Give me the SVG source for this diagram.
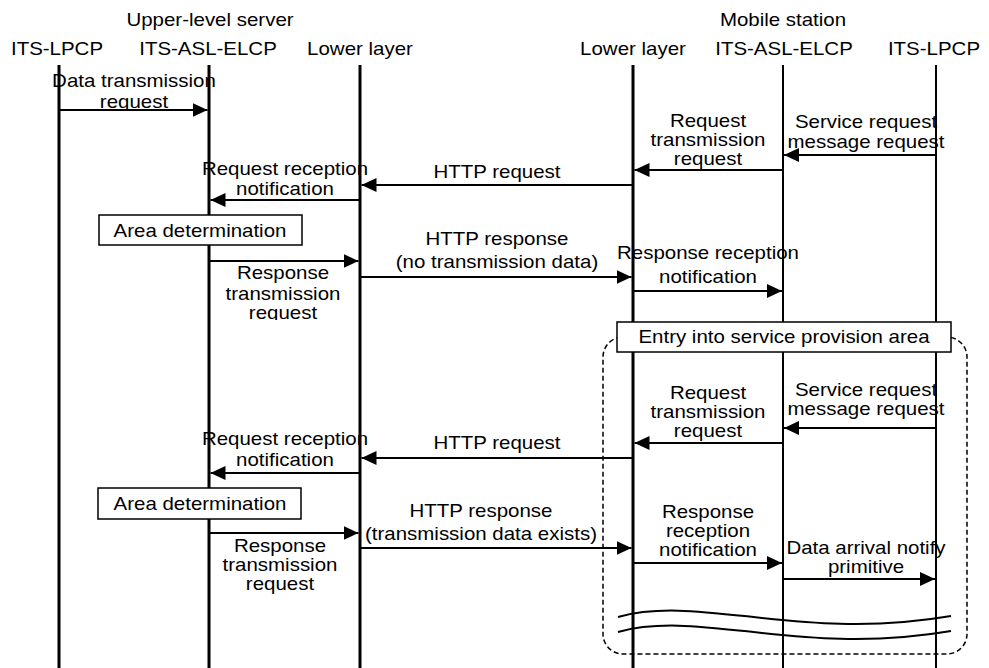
<svg xmlns="http://www.w3.org/2000/svg" width="989" height="668" viewBox="0 0 989 668">
<style>
text{font-family:"Liberation Sans",Arial,sans-serif;font-size:17.8px;fill:#000;text-anchor:middle}
.ll{stroke:#000;fill:none}
.msg{stroke:#000;stroke-width:2;fill:none;marker-end:url(#ah)}
.box{fill:#fff;stroke:#000;stroke-width:1.5}
.dash{fill:none;stroke:#000;stroke-width:1.5;stroke-dasharray:5 3}
.wave{fill:none;stroke:#000;stroke-width:2}
</style>
<defs>
<marker id="ah" markerUnits="userSpaceOnUse" markerWidth="15" markerHeight="14" refX="15" refY="7" orient="auto">
<path d="M0,0 L15,7 L0,14 Z" fill="#000"/>
</marker>
<clipPath id="c1"><rect x="0" y="0" width="989" height="110"/></clipPath>
<clipPath id="c2"><rect x="0" y="0" width="989" height="320"/></clipPath>
</defs>
<rect width="989" height="668" fill="#fff"/>

<g id="group-headers" transform="scale(1.15,1)">
<text x="182.61" y="26">Upper-level server</text>
<text x="680.87" y="26">Mobile station</text>
</g>

<g id="service-area-frame">
<rect class="dash" x="603" y="337" width="364" height="317" rx="20" ry="20"/>
</g>

<g id="lifeline-server-lpcp"><text transform="scale(1.15,1)" x="49.57" y="55">ITS-LPCP</text><line class="ll" x1="59" y1="65" x2="59" y2="668" stroke-width="3"/></g>
<g id="lifeline-server-elcp"><text transform="scale(1.15,1)" x="180.87" y="55">ITS-ASL-ELCP</text><line class="ll" x1="209" y1="65" x2="209" y2="668" stroke-width="3"/></g>
<g id="lifeline-server-lower"><text transform="scale(1.15,1)" x="313.04" y="55">Lower layer</text><line class="ll" x1="360" y1="65" x2="360" y2="668" stroke-width="3"/></g>
<g id="lifeline-mobile-lower"><text transform="scale(1.15,1)" x="550.43" y="55">Lower layer</text><line class="ll" x1="633" y1="65" x2="633" y2="668" stroke-width="3"/></g>
<g id="lifeline-mobile-elcp"><text transform="scale(1.15,1)" x="681.74" y="55">ITS-ASL-ELCP</text><line class="ll" x1="783" y1="65" x2="783" y2="668" stroke-width="2"/></g>
<g id="lifeline-mobile-lpcp"><text transform="scale(1.15,1)" x="812.17" y="55">ITS-LPCP</text><line class="ll" x1="936" y1="65" x2="936" y2="668" stroke-width="2"/></g>

<g id="area-determination-1"><rect class="box" x="99" y="215" width="203" height="30"/><text transform="scale(1.15,1)" x="173.91" y="237">Area determination</text></g>
<g id="entry-service-area"><rect class="box" x="617" y="322" width="334" height="30"/><text transform="scale(1.15,1)" x="681.74" y="343">Entry into service provision area</text></g>
<g id="area-determination-2"><rect class="box" x="98" y="488" width="203" height="31"/><text transform="scale(1.15,1)" x="173.91" y="510">Area determination</text></g>

<g id="connectors">
<line class="msg" x1="59" y1="110" x2="207.5" y2="110"/>
<line class="msg" x1="936" y1="155" x2="784" y2="155"/>
<line class="msg" x1="783" y1="170" x2="634.5" y2="170"/>
<line class="msg" x1="633" y1="185" x2="361.5" y2="185"/>
<line class="msg" x1="360" y1="200" x2="210.5" y2="200"/>
<line class="msg" x1="209" y1="261" x2="358.5" y2="261"/>
<line class="msg" x1="360" y1="277" x2="631.5" y2="277"/>
<line class="msg" x1="633" y1="291" x2="782" y2="291"/>
<line class="msg" x1="936" y1="428" x2="784" y2="428"/>
<line class="msg" x1="783" y1="443" x2="634.5" y2="443"/>
<line class="msg" x1="633" y1="458" x2="361.5" y2="458"/>
<line class="msg" x1="360" y1="473" x2="210.5" y2="473"/>
<line class="msg" x1="209" y1="533" x2="358.5" y2="533"/>
<line class="msg" x1="360" y1="548" x2="631.5" y2="548"/>
<line class="msg" x1="633" y1="563" x2="782" y2="563"/>
<line class="msg" x1="783" y1="579" x2="935" y2="579"/>
</g>

<g id="connector-labels" transform="scale(1.15,1)">
<text x="116.52" y="87">Data transmission</text>
<text x="116.52" y="108" clip-path="url(#c1)">request</text>
<text x="753.04" y="128">Service request</text>
<text x="753.04" y="148">message request</text>
<text x="615.65" y="127">Request</text>
<text x="615.65" y="146">transmission</text>
<text x="615.65" y="165">request</text>
<text x="432.17" y="178">HTTP request</text>
<text x="247.83" y="175">Request reception</text>
<text x="247.83" y="195">notification</text>
<text x="246.09" y="279">Response</text>
<text x="246.09" y="300">transmission</text>
<text x="246.09" y="319" clip-path="url(#c2)">request</text>
<text x="432.17" y="245">HTTP response</text>
<text x="432.17" y="268">(no transmission data)</text>
<text x="615.65" y="259">Response reception</text>
<text x="615.65" y="283">notification</text>
<text x="753.04" y="396">Service request</text>
<text x="753.04" y="415">message request</text>
<text x="615.65" y="399">Request</text>
<text x="615.65" y="418">transmission</text>
<text x="615.65" y="437">request</text>
<text x="432.17" y="449">HTTP request</text>
<text x="247.83" y="445">Request reception</text>
<text x="247.83" y="466">notification</text>
<text x="243.48" y="552">Response</text>
<text x="243.48" y="571">transmission</text>
<text x="243.48" y="590">request</text>
<text x="418.26" y="517">HTTP response</text>
<text x="418.26" y="540">(transmission data exists)</text>
<text x="615.65" y="518">Response</text>
<text x="615.65" y="537">reception</text>
<text x="615.65" y="556">notification</text>
<text x="753.04" y="554">Data arrival notify</text>
<text x="753.04" y="573">primitive</text>
</g>

<g id="time-break">
<path class="wave" d="M618,617 C700,594 800,642 951,616"/>
<path class="wave" d="M618,632 C700,609 800,657 951,631"/>
</g>
</svg>
